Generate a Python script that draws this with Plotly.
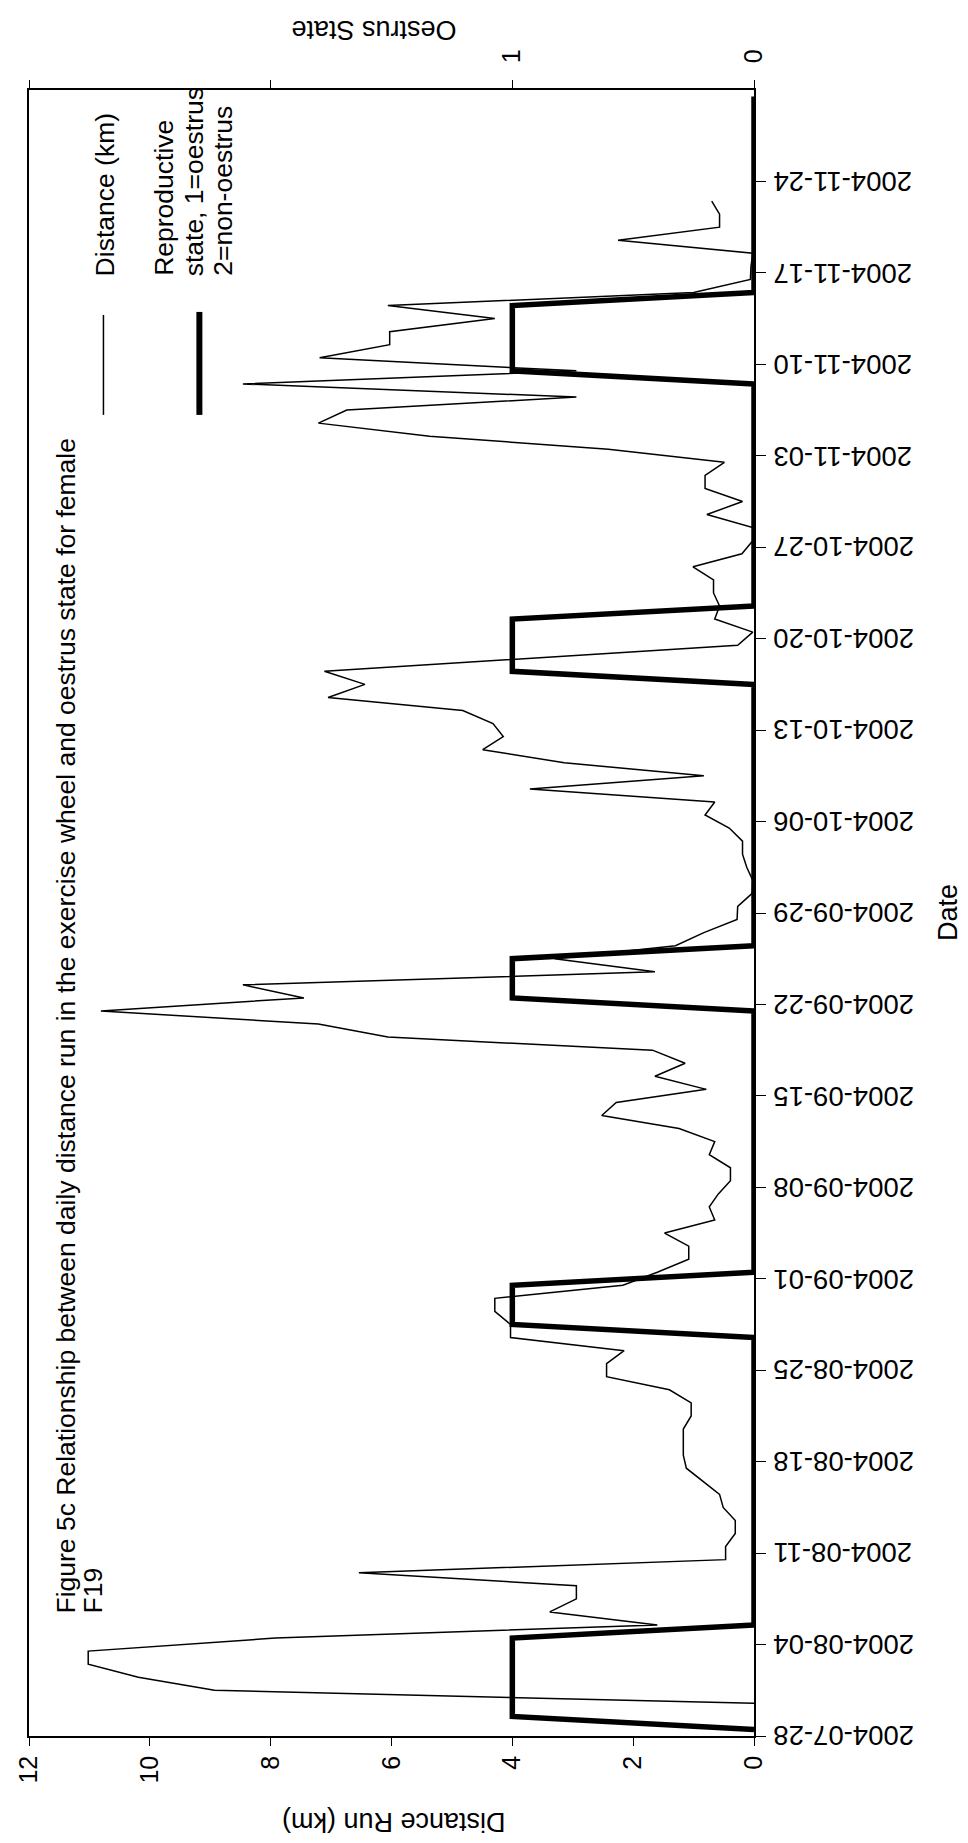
import plotly.graph_objects as go
import pandas as pd

# ---------------- data ----------------
distance_start = "2004-07-30"
distance_km = [
    # Jul 30-31
    0.00, 8.93,
    # Aug 1-31
    10.19, 11.02, 11.02, 7.92, 1.60, 3.38, 2.94, 2.94, 6.54, 0.47,
    0.47, 0.31, 0.31, 0.51, 0.57, 0.85, 1.12, 1.17, 1.17, 1.17,
    1.04, 1.04, 1.40, 2.44, 2.44, 2.15, 4.03, 4.03, 4.29, 4.29, 2.17,
    # Sep 1-30
    1.60, 1.08, 1.08, 1.48, 0.65, 0.74, 0.59, 0.39, 0.39, 0.74,
    0.65, 1.24, 2.52, 2.28, 0.79, 1.64, 1.14, 1.68, 6.06, 7.21,
    10.81, 7.45, 8.46, 1.64, 3.30, 1.30, 0.83, 0.28, 0.27, 0.03,
    # Oct 1-31
    0.02, 0.12, 0.19, 0.19, 0.41, 0.81, 0.65, 3.71, 0.83, 3.14,
    4.49, 4.15, 4.32, 4.82, 7.05, 6.44, 7.11, None, 0.27, 0.02,
    0.65, 0.57, 0.67, 0.67, 1.01, 0.20, 0.02, 0.02, 0.78, 0.19, 0.81,
    # Nov 1-22
    0.81, 0.49, 2.41, 5.37, 7.21, 6.74, 2.94, 8.46, 2.94, 7.19,
    6.03, 6.03, 4.29, 6.06, 1.00, 0.06, 0.05, 0.02, 2.25, 0.57,
    0.57, 0.70,
]

oestrus_start = "2004-07-28"
oestrus_state = [
    # Jul 28-31
    0, 1, 1, 1,
    # Aug 1-31
    1, 1, 1, 1, 0, 0, 0, 0, 0, 0, 0, 0, 0, 0, 0, 0, 0, 0, 0, 0,
    0, 0, 0, 0, 0, 0, 0, 1, 1, 1, 1,
    # Sep 1-30
    0, 0, 0, 0, 0, 0, 0, 0, 0, 0, 0, 0, 0, 0, 0, 0, 0, 0, 0, 0,
    0, 1, 1, 1, 1, 0, 0, 0, 0, 0,
    # Oct 1-31
    0, 0, 0, 0, 0, 0, 0, 0, 0, 0, 0, 0, 0, 0, 0, 0, 1, 1, 1, 1,
    1, 0, 0, 0, 0, 0, 0, 0, 0, 0, 0,
    # Nov 1-30
    0, 0, 0, 0, 0, 0, 0, 0, 1, 1, 1, 1, 1, 1, 0, 0, 0, 0, 0, 0,
    0, 0, 0, 0, 0, 0, 0, 0, 0, 0,
]

date_ticks = [
    "2004-07-28", "2004-08-04", "2004-08-11", "2004-08-18", "2004-08-25",
    "2004-09-01", "2004-09-08", "2004-09-15", "2004-09-22", "2004-09-29",
    "2004-10-06", "2004-10-13", "2004-10-20", "2004-10-27", "2004-11-03",
    "2004-11-10", "2004-11-17", "2004-11-24",
]
date_range = ["2004-07-28", "2004-12-01"]
distance_ticks = [0, 2, 4, 6, 8, 10, 12]
oestrus_ticks = [0, 1, 2, 3]
oestrus_ticktext = ["0", "1", "", ""]

title_line1 = ("Figure 5c Relationship between daily distance run in the exercise "
               "wheel and oestrus state for female")
title_line2 = "F19"

# ---------------- geometry ----------------
W, H = 968, 1843
ML, MR, MT, MB = 21, 221.5, 82, 114.5
PW = W - ML - MR
PH = H - MT - MB


def px(x):
    return (x - ML) / PW


def py(y):
    return (H - MB - y) / PH


FONT = "Liberation Sans, Arial, sans-serif"
half_day = pd.Timedelta(hours=12)  # Excel plots each day in the middle of its slot
dist_dates = pd.date_range(distance_start, periods=len(distance_km), freq="D") + half_day
oes_dates = pd.date_range(oestrus_start, periods=len(oestrus_state), freq="D") + half_day

fig = go.Figure()
fig.add_trace(go.Scatter(
    x=distance_km, y=dist_dates, mode="lines", connectgaps=True,
    line=dict(color="black", width=1.5), xaxis="x", yaxis="y",
    name="Distance (km)", showlegend=False,
))
fig.add_trace(go.Scatter(
    x=oestrus_state, y=oes_dates, mode="lines",
    line=dict(color="black", width=5.5), xaxis="x2", yaxis="y",
    name="Reproductive state", showlegend=False,
))

axis_common = dict(
    showline=True, linecolor="black", linewidth=1.5,
    ticks="outside", tickcolor="black", tickwidth=1.3,
    showgrid=False, zeroline=False, automargin=False,
)

fig.update_layout(
    width=W, height=H,
    margin=dict(l=ML, r=MR, t=MT, b=MB, pad=0),
    paper_bgcolor="white", plot_bgcolor="white",
    font=dict(family=FONT, color="black", size=26),
    showlegend=False,
    xaxis=dict(
        range=[12, 0], tickvals=distance_ticks, ticklen=8, tickangle=-90,
        tickfont=dict(size=25), anchor="y", **axis_common,
    ),
    xaxis2=dict(
        range=[3, 0], tickvals=oestrus_ticks, ticktext=oestrus_ticktext,
        overlaying="x", side="top", anchor="y", ticklen=8, tickangle=-90,
        ticklabelstandoff=12, tickfont=dict(size=25), **axis_common,
    ),
    yaxis=dict(
        type="date", range=date_range, side="right", anchor="x",
        tickvals=date_ticks, showticklabels=False, ticklen=10,
        mirror=True, **axis_common,
    ),
)

ann = []


def text(t, x, y, angle, xanchor="center", yanchor="middle", size=26.5):
    ann.append(dict(
        text=t, x=px(x), y=py(y), xref="paper", yref="paper",
        textangle=angle, xanchor=xanchor, yanchor=yanchor, showarrow=False,
        font=dict(family=FONT, size=size, color="black"),
    ))


# date tick labels (upside-down, on the right of the date axis)
for d in date_ticks:
    ann.append(dict(
        text=d, x=px(763), y=d, xref="paper", yref="y",
        textangle=180, xanchor="left", yanchor="middle", showarrow=False,
        font=dict(family=FONT, size=27.5, color="black"),
    ))

# titles
text(title_line1, 58, 1608, -90, yanchor="bottom")
text(title_line2, 85, 1608, -90, yanchor="bottom")
text("Distance Run (km)", 386, 1814, 180, size=27)
text("Oestrus State", 366, 22, 180, size=27)
text("Date", 940, 905, -90, size=27)

# legend
text("Distance (km)", 97, 270, -90, yanchor="bottom")
text("Reproductive", 156, 270, -90, yanchor="bottom")
text("state, 1=oestrus", 187, 270, -90, yanchor="bottom")
text("2=non-oestrus", 215, 270, -90, yanchor="bottom")

fig.update_layout(annotations=ann)

fig.add_shape(type="line", xref="paper", yref="paper",
              x0=px(95.5), x1=px(95.5), y0=py(307), y1=py(407),
              line=dict(color="black", width=1.5))
fig.add_shape(type="line", xref="paper", yref="paper",
              x0=px(191.5), x1=px(191.5), y0=py(304), y1=py(407),
              line=dict(color="black", width=6))

fig.write_html("out.html")
